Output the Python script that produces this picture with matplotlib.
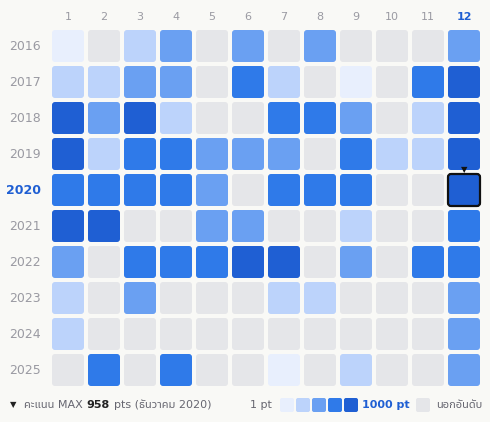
import matplotlib
matplotlib.use("Agg")
import matplotlib.pyplot as plt
from matplotlib.patches import FancyBboxPatch
from matplotlib import font_manager

years = [2016, 2017, 2018, 2019, 2020, 2021, 2022, 2023, 2024, 2025]
months = list(range(1, 13))
# level 0 = out of ranking, 1..5 = 1 pt .. 1000 pt
levels = [
    [1, 0, 2, 3, 0, 3, 0, 3, 0, 0, 0, 3],
    [2, 2, 3, 3, 0, 4, 2, 0, 1, 0, 4, 5],
    [5, 3, 5, 2, 0, 0, 4, 4, 3, 0, 2, 5],
    [5, 2, 4, 4, 3, 3, 3, 0, 4, 2, 2, 5],
    [4, 4, 4, 4, 3, 0, 4, 4, 4, 0, 0, 5],
    [5, 5, 0, 0, 3, 3, 0, 0, 2, 0, 0, 4],
    [3, 0, 4, 4, 4, 5, 5, 0, 3, 0, 4, 4],
    [2, 0, 3, 0, 0, 0, 2, 2, 0, 0, 0, 3],
    [2, 0, 0, 0, 0, 0, 0, 0, 0, 0, 0, 3],
    [0, 4, 0, 4, 0, 0, 1, 0, 2, 0, 0, 3],
]
sel_year, sel_month = 2020, 12
colors = ["#e5e6e9", "#e8effd", "#bcd3fb", "#6aa0f2", "#2f7ae9", "#1f5fd3"]
bg = "#f9f9f6"
gray = "#9a9aa2"
blue = "#1f5fd3"

avail = {f.name for f in font_manager.fontManager.ttflist}
fams = ["DejaVu Sans"] + [f for f in ["Noto Sans Thai", "Noto Sans Thai UI", "Loma", "Garuda",
                                      "Tlwg Typo", "Noto Sans"] if f in avail]
plt.rcParams["font.family"] = fams

fig = plt.figure(figsize=(4.9, 4.22), dpi=100, facecolor=bg)
ax = fig.add_axes([0, 0, 1, 1])
ax.set_xlim(0, 490)
ax.set_ylim(422, 0)
ax.axis("off")

x0, y0, step, size = 52, 30, 36, 32
for r, yr in enumerate(years):
    for c, m in enumerate(months):
        x = x0 + c * step
        y = y0 + r * step
        ax.add_patch(FancyBboxPatch((x + 3, y + 3), size - 6, size - 6,
                                    boxstyle="round,pad=3", fc=colors[levels[r][c]], ec="none"))
        if yr == sel_year and m == sel_month:
            ax.add_patch(FancyBboxPatch((x + 3, y + 3), size - 6, size - 6,
                                        boxstyle="round,pad=3", fc="none", ec="#111111", lw=1.6))
            ax.text(x + size / 2, y - 4, "▼", ha="center", va="center", fontsize=6, color="#111111")
    bold = yr == sel_year
    ax.text(41, y0 + r * step + size / 2, str(yr), ha="right", va="center", fontsize=9,
            color=blue if bold else gray, fontweight="bold" if bold else "normal")

for c, m in enumerate(months):
    bold = m == sel_month
    ax.text(x0 + c * step + size / 2, 17, str(m), ha="center", va="center", fontsize=8,
            color=blue if bold else gray, fontweight="bold" if bold else "normal")

# footer: chain the pieces by their measured widths
fy = 405
renderer = fig.canvas.get_renderer()


def chain(x, s, gap=4, **kw):
    t = ax.text(x, fy, s, ha="left", va="center", fontsize=8, **kw)
    bb = t.get_window_extent(renderer)
    return x + bb.width + gap


ax.text(10, fy, "▼", ha="left", va="center", fontsize=6, color="#222222")
nx = chain(24, "คะแนน MAX", color="#666670")
nx = chain(nx, "958", color="#222222", fontweight="bold")
chain(nx, "pts (ธันวาคม 2020)", color="#666670")

ax.text(272, fy, "1 pt", ha="right", va="center", fontsize=8, color="#666670")
for i in range(1, 6):
    ax.add_patch(FancyBboxPatch((280 + (i - 1) * 16 + 2, fy - 5), 10, 10,
                                boxstyle="round,pad=2", fc=colors[i], ec="none"))
ax.text(362, fy, "1000 pt", ha="left", va="center", fontsize=8, color=blue, fontweight="bold")
ax.add_patch(FancyBboxPatch((418, fy - 5), 10, 10, boxstyle="round,pad=2", fc=colors[0], ec="none"))
ax.text(436, fy, "นอกอันดับ", ha="left", va="center", fontsize=8, color="#666670")

fig.savefig("out.png", dpi=100, facecolor=bg)
